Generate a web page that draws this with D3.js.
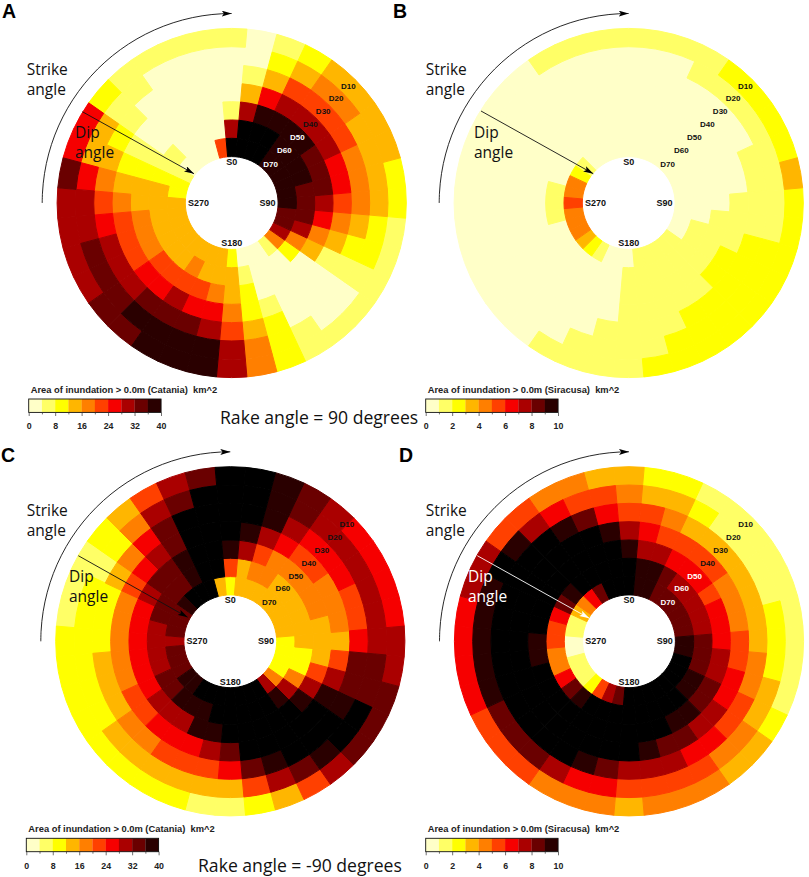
<!DOCTYPE html>
<html><head><meta charset="utf-8">
<script src="https://cdn.jsdelivr.net/npm/d3@7"></script>
<style>html,body{margin:0;padding:0;background:#fff}svg{display:block}</style>
</head><body><svg id="c" width="809" height="877"></svg>
<script>
// Each list: colour-bin index per strike sector 0,10,...,350 (10 = beyond the scale, drawn black)
const dipLabels=["D10","D20","D30","D40","D50","D60","D70"];
const strikeLabels=["S0","S90","S180","S270"];
const strikes=d3.range(0,360,10);
const colours=["#FFFFC8","#FFFF66","#FFFF00","#FFB600","#FF7F00","#FF4000","#F60000","#AA0000","#6A0000","#2A0000","#000000"];
const catTicks=[0,4,8,12,16,20,24,28,32,36,40];
const sirTicks=[0,1,2,3,4,5,6,7,8,9,10];

const binsA=[
[1,0,1,2,3,3,3,3,2,2,1,1,1,1,1,1,2,4,7,9,9,9,8,8,7,7,7,7,8,6,6,2,1,1,1,1],
[0,0,2,3,4,4,3,3,3,3,2,2,1,0,0,1,2,4,7,9,9,9,9,8,8,8,7,7,6,3,3,1,1,0,0,0],
[0,1,3,5,5,5,5,4,4,4,3,2,1,0,0,0,2,3,5,7,8,8,8,7,7,7,6,5,4,3,2,1,0,0,0,0],
[0,3,6,7,7,7,7,6,6,5,4,3,1,0,0,0,1,2,4,6,6,7,6,6,5,5,5,4,3,2,1,0,0,0,0,0],
[1,7,9,9,9,9,8,8,8,7,6,4,3,0,0,0,0,2,3,4,5,5,5,5,4,4,4,3,3,2,1,0,0,0,0,0],
[7,10,10,10,9,9,9,9,8,8,8,7,4,2,0,0,0,1,3,3,3,4,3,3,3,3,3,3,3,2,1,1,0,0,0,0],
[10,10,10,10,9,9,9,9,9,9,8,8,7,4,1,0,0,0,2,3,3,3,3,3,3,3,3,3,2,2,1,0,0,0,0,5]];
const binsB=[
[1,1,1,1,2,2,2,2,3,2,2,2,2,2,2,2,2,2,1,1,1,1,0,0,0,0,0,0,0,0,0,0,0,1,1,1],
[0,0,0,1,1,1,1,1,1,1,1,2,2,2,2,2,2,1,1,1,1,0,0,0,0,0,0,0,0,0,0,0,0,0,0,0],
[0,0,0,0,0,0,0,1,1,1,1,2,2,2,2,2,1,1,1,1,0,0,0,0,0,0,0,0,0,0,0,0,0,0,0,0],
[0,0,0,0,0,0,0,0,0,1,1,1,2,2,1,1,1,1,1,0,0,0,0,0,0,0,0,0,0,0,0,0,0,0,0,0],
[0,0,0,0,0,0,0,0,0,0,1,1,1,1,1,1,1,1,1,0,0,0,0,0,0,0,0,0,0,0,0,0,0,0,0,0],
[0,0,0,0,0,0,0,0,0,0,0,1,1,1,1,1,1,1,1,0,0,0,0,0,0,0,1,1,1,0,0,0,0,0,0,0],
[0,0,0,0,0,0,0,0,0,0,0,0,0,1,1,1,1,1,0,0,0,1,2,3,4,4,4,5,4,4,2,1,0,0,0,0]];
const binsC=[
[10,10,9,8,7,6,6,6,6,7,7,8,8,8,7,5,3,2,1,1,2,2,2,2,2,2,2,2,1,1,1,2,3,5,7,8],
[10,10,9,8,7,7,7,7,7,7,8,8,10,10,9,8,7,5,3,3,3,3,3,3,2,2,2,2,2,2,1,2,4,7,8,10],
[10,10,9,7,6,6,6,5,5,6,8,8,9,10,10,10,9,8,6,5,5,5,4,4,3,3,3,2,2,2,3,4,6,8,10,10],
[10,9,7,6,5,5,4,4,4,3,5,7,9,10,10,10,10,10,8,7,6,6,6,5,5,4,4,4,4,4,5,6,7,8,10,10],
[9,7,5,4,4,4,4,4,3,3,3,5,7,9,10,10,10,10,10,9,9,7,7,7,6,6,6,6,6,6,7,8,8,9,10,10],
[5,3,4,4,3,3,3,3,3,3,2,2,4,7,9,10,10,10,10,10,9,9,9,8,8,7,7,7,7,8,8,8,8,9,10,10],
[2,3,3,3,3,3,3,3,3,2,2,2,2,4,7,10,10,10,10,10,10,10,9,9,8,8,8,7,8,8,8,9,10,10,10,3]];
const binsD=[
[3,2,2,1,1,1,1,1,1,1,1,1,2,3,3,4,4,4,3,4,4,4,5,5,5,6,6,6,6,7,7,5,5,4,4,3],
[4,3,3,2,1,1,1,1,2,2,2,3,3,4,4,5,5,5,5,6,6,7,8,8,8,9,9,9,9,9,10,9,7,6,5,5],
[5,5,4,3,3,3,3,3,3,3,4,4,5,5,6,6,7,7,7,8,9,10,10,10,10,10,10,10,10,10,10,10,10,9,8,6],
[7,6,5,5,5,5,4,4,4,5,5,6,6,7,7,8,8,9,10,10,10,10,10,10,10,10,10,10,10,10,10,10,10,10,10,9],
[9,7,7,6,6,6,5,6,6,6,7,7,8,8,9,9,10,10,10,10,10,10,10,10,10,10,9,9,10,10,10,10,10,10,10,10],
[10,9,9,8,7,7,7,7,7,8,8,8,9,9,10,10,10,10,10,10,10,10,9,8,6,4,4,5,5,6,8,9,10,10,10,10],
[10,9,9,8,8,8,8,8,8,9,9,10,10,10,10,10,10,10,10,8,7,5,2,1,1,1,0,0,1,1,3,4,6,8,10,10]];

const panels=[
 {k:"A",bins:binsA,max:40,ticks:catTicks,site:"Catania",cx:231.7,cy:203,lx:2,ly:18,
  bx:28.7,by:399,tx:30.7,ty:392.5,white:["D50","D60","D70"],sx:26.7,sy:75,dx:75,dy:138,dc:"#000",
  a0:[82.3,111.7],a1:[194,173.7]},
 {k:"B",bins:binsB,max:10,ticks:sirTicks,site:"Siracusa",cx:628.7,cy:203,lx:393,ly:18,
  bx:425.7,by:399,tx:427.7,ty:392.5,white:[],sx:425.7,sy:75,dx:474,dy:138,dc:"#000",
  a0:[481,111],a1:[593.3,173.7]},
 {k:"C",bins:binsC,max:40,ticks:catTicks,site:"Catania",cx:230.3,cy:641.3,lx:1,ly:462,
  bx:26.3,by:838.3,tx:28.3,ty:831.5,white:[],sx:26.7,sy:516,dx:69,dy:582,dc:"#000",
  a0:[78.3,555.7],a1:[187.7,617.3]},
 {k:"D",bins:binsD,max:10,ticks:sirTicks,site:"Siracusa",cx:629,cy:641.3,lx:399,ly:462,
  bx:425.7,by:838.3,tx:427.7,ty:831.5,white:["D50","D60","D70"],sx:425.7,sy:516,dx:468,dy:582,dc:"#fff",
  a0:[477.3,555.7],a1:[589.3,618.3]}];

const svg=d3.select("#c");
const SANS='"Liberation Sans",Arial,sans-serif', OPEN='"Open Sans",sans-serif';
const angle=d3.scaleLinear().domain([0,360]).range([0,2*Math.PI]);
const radius=d3.scaleBand().domain(dipLabels).range([174.6,46.4]);
const arc=d3.arc();
const defs=svg.append("defs");
[["#000","hb"],["#fff","hw"]].forEach(([c,id])=>{
 defs.append("marker").attr("id",id).attr("viewBox","0 0 10 6").attr("refX",10).attr("refY",3)
  .attr("markerUnits","userSpaceOnUse").attr("markerWidth",10).attr("markerHeight",6).attr("orient","auto")
  .append("path").attr("d","M0,0L10,3L0,6L2.2,3Z").attr("fill",c);
});

panels.forEach(p=>{
 const step=p.max/10;
 const col=d3.scaleThreshold().domain(d3.range(1,11).map(i=>i*step)).range(colours);
 const g=svg.append("g").attr("transform",`translate(${p.cx},${p.cy})`);
 // light cells first; a 1px stroke in the cell's own colour closes the antialiasing seams
 const cells=[];
 dipLabels.forEach((d,ri)=>strikes.forEach((s,si)=>cells.push({d,s,v:(p.bins[ri][si]+.5)*step})));
 cells.sort((a,b)=>a.v-b.v);
 g.selectAll(null).data(cells).enter().append("path")
   .attr("d",e=>arc({innerRadius:radius(e.d),outerRadius:radius(e.d)+radius.bandwidth(),
      startAngle:angle(e.s-5),endAngle:angle(e.s+5)}))
   .attr("fill",e=>col(e.v)).attr("stroke",e=>col(e.v)).attr("stroke-width",1).attr("stroke-linejoin","round");
 // dip labels along 45 degrees
 dipLabels.forEach(d=>{
  const r=radius(d)+radius.bandwidth()/2+ (d==="D70"?-.5:(d==="D10"?-.5:.6));
  g.append("text").text(d).attr("x",r*Math.SQRT1_2).attr("y",-r*Math.SQRT1_2).attr("dy","0.35em")
   .attr("text-anchor","middle").attr("font-family",SANS).attr("font-weight","bold").attr("font-size",8)
   .attr("fill",p.white.includes(d)?"#fff":"#111");
 });
 const sPos={S0:[0,-41],S90:[35.7,0],S180:[0,40.3],S270:[-33.3,0]};
 strikeLabels.forEach(s=>{
  g.append("text").text(s).attr("x",sPos[s][0]).attr("y",sPos[s][1]).attr("dy","0.35em")
   .attr("text-anchor","middle").attr("font-family",SANS).attr("font-weight","bold").attr("font-size",9)
   .attr("fill","#111");
 });
 // strike arc
 const R=189.5;
 const line=d3.lineRadial().angle(t=>angle(t)).radius(R).curve(d3.curveCatmullRom);
 g.append("path").attr("d",line(d3.range(-90,1,3))).attr("fill","none").attr("stroke","#111").attr("stroke-width",.9)
  .attr("marker-end","url(#hb)");
 // dip arrow
 svg.append("line").attr("x1",p.a0[0]).attr("y1",p.a0[1]).attr("x2",p.a1[0]).attr("y2",p.a1[1])
  .attr("stroke",p.dc==="#fff"?"#fff":"#111").attr("stroke-width",.9)
  .attr("marker-end",p.dc==="#fff"?"url(#hw)":"url(#hb)");
 const txt=(t,x,y,c)=>svg.append("text").text(t).attr("x",x).attr("y",y).attr("fill",c)
   .attr("font-family",OPEN).attr("font-size",15.5);
 txt("Strike",p.sx,p.sy,"#111"); txt("angle",p.sx,p.sy+20,"#111");
 txt("Dip",p.dx,p.dy,p.dc==="#fff"?"#fff":"#111"); txt("angle",p.dx,p.dy+20,p.dc==="#fff"?"#fff":"#111");
 // panel letter
 svg.append("text").text(p.k).attr("x",p.lx).attr("y",p.ly).attr("font-family",SANS).attr("font-weight","bold")
  .attr("font-size",19.5).attr("fill","#000");
 // legend
 const x=d3.scaleLinear().domain([0,p.max]).range([p.bx,p.bx+132.3]);
 svg.append("text").text(`Area of inundation > 0.0m (${p.site})  km^2`).attr("x",p.tx).attr("y",p.ty)
  .style("white-space","pre")
  .attr("font-family",SANS).attr("font-weight","bold").attr("font-size",9.35).attr("fill","#222");
 svg.append("g").selectAll("rect").data(d3.range(10)).enter().append("rect")
  .attr("x",i=>x(i*step)).attr("width",x(step)-x(0)+.2).attr("y",p.by).attr("height",13.4)
  .attr("fill",i=>colours[i]);
 svg.append("rect").attr("x",p.bx).attr("y",p.by).attr("width",132.3).attr("height",13.4)
  .attr("fill","none").attr("stroke","#111").attr("stroke-width",.9);
 const ax=svg.append("g").attr("transform",`translate(0,${p.by+13.4})`)
  .call(d3.axisBottom(x).tickValues(p.ticks).tickSize(3.6).tickPadding(7)
   .tickFormat((d,i)=>i%2===0?d:""));
 ax.select(".domain").remove();
 ax.selectAll("line").attr("stroke","#333").attr("stroke-width",.7).attr("y2",(d,i)=>i%2===0?3.6:2);
 ax.selectAll("text").attr("font-family",SANS).attr("font-weight","bold").attr("font-size",8.8).attr("fill","#222");
});
svg.append("text").text("Rake angle = 90 degrees").attr("x",220).attr("y",424)
 .attr("font-family",OPEN).attr("font-size",17.6).attr("fill","#111");
svg.append("text").text("Rake angle = -90 degrees").attr("x",198).attr("y",871.5)
 .attr("font-family",OPEN).attr("font-size",17.6).attr("fill","#111");
</script></body></html>
